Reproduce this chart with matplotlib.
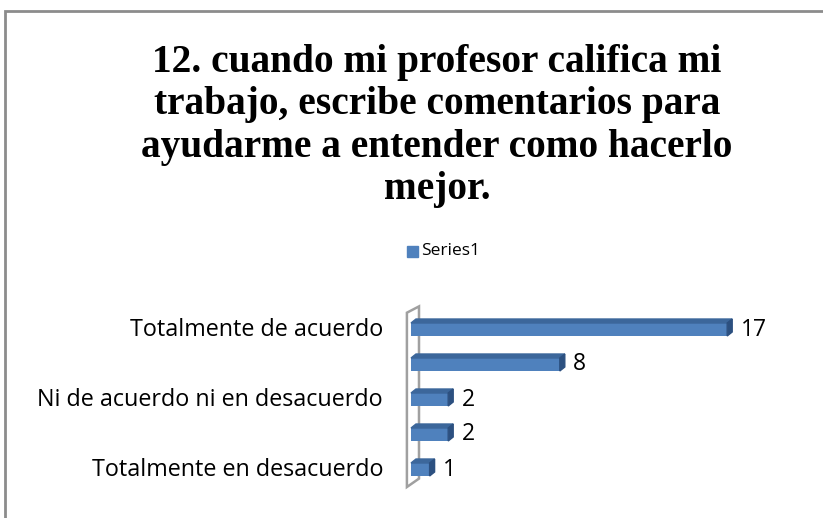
import matplotlib.pyplot as plt
from matplotlib.patches import Polygon, Rectangle

# data
categories = ["Totalmente en desacuerdo", "En desacuerdo",
              "Ni de acuerdo ni en desacuerdo", "De acuerdo",
              "Totalmente de acuerdo"]
shown_labels = ["Totalmente en desacuerdo", "",
                "Ni de acuerdo ni en desacuerdo", "",
                "Totalmente de acuerdo"]
values = [1, 2, 2, 8, 17]
series_name = "Series1"
title = ("12. cuando mi profesor califica mi\ntrabajo, escribe comentarios para\n"
         "ayudarme a entender como hacerlo\nmejor.")

front = "#4F81BD"
top_c = "#3C679B"
side_c = "#2C5080"

W, H = 823, 518
fig = plt.figure(figsize=(W / 100, H / 100), dpi=100)

# outer chart border (left/top visible)
fig.patches.append(Rectangle((5 / W, -0.1), 1.2, (H - 11) / H + 0.1,
                             transform=fig.transFigure, fill=False,
                             edgecolor="#8C8C8C", linewidth=2))

fig.text(437 / W, 1 - 126 / H, title, ha="center", va="center",
         family="Liberation Serif", weight="bold", fontsize=28.4,
         linespacing=1.2)

ax = fig.add_axes([411 / W, 31 / H, 372 / W, 175 / H])
ax.set_xlim(0, 20)
ax.set_ylim(-0.5, 4.5)
ax.axis("off")

ux = 372 / 20   # px per x unit
uy = 175 / 5    # px per y unit
dx, dy = 5 / ux, 4 / uy
bh = 13 / uy

# wall
wall = Polygon([(-0.22, -0.5), (-0.22, 4.48), (0.43, 4.66), (0.43, -0.26)],
               closed=True, fill=False, edgecolor="#A0A0A0", linewidth=1.8,
               clip_on=False)
ax.add_patch(wall)

ys = list(range(len(values)))
ax.barh(ys, values, height=bh, color=front, edgecolor="none", zorder=3)
for y, v in zip(ys, values):
    y0, y1 = y - bh / 2, y + bh / 2
    ax.add_patch(Polygon([(0, y1), (v, y1), (v + dx, y1 + dy), (dx, y1 + dy)],
                         closed=True, color=top_c, zorder=3, clip_on=False))
    ax.add_patch(Polygon([(v, y0), (v, y1), (v + dx, y1 + dy), (v + dx, y0 + dy)],
                         closed=True, color=side_c, zorder=3, clip_on=False))
    ax.text(v + dx + 0.45, y, str(v), ha="left", va="center",
            family="Open Sans", fontsize=16.5)
    if shown_labels[y]:
        ax.text(-1.5, y, shown_labels[y], ha="right", va="center",
                family="Open Sans", fontsize=16.8)

# legend
fig.patches.append(Rectangle((407 / W, 1 - 257 / H), 11 / W, 11 / H,
                             transform=fig.transFigure, color=front))
fig.text(421 / W, 1 - 251 / H, series_name, ha="left", va="center",
         family="Open Sans", fontsize=12.5)

fig.savefig("out.png", dpi=100)
